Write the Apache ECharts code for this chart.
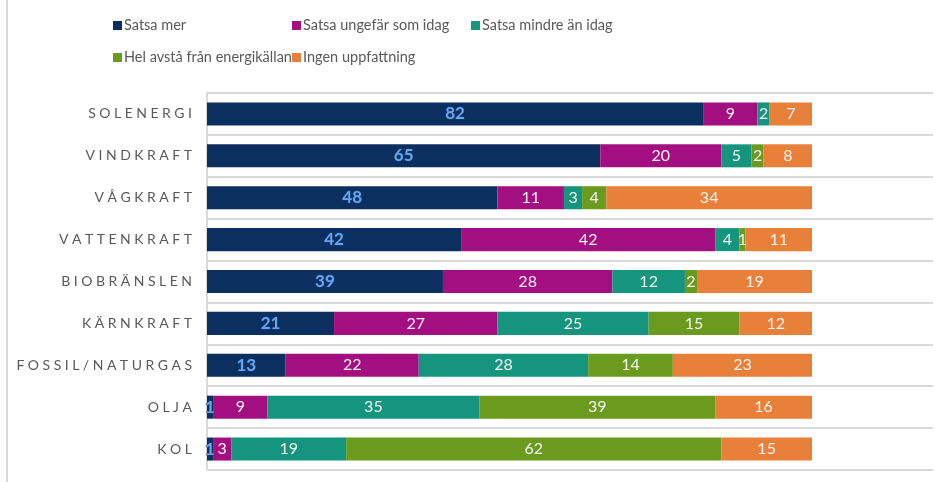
<!DOCTYPE html>
<html>
<head>
<meta charset="utf-8">
<script src="https://cdn.jsdelivr.net/npm/echarts@6/dist/echarts.min.js"></script>
<style>
  html, body { margin: 0; padding: 0; background: #fff; }
  #chart { width: 941px; height: 482px; }
</style>
</head>
<body>
<div id="chart"></div>
<script>
// energikällor, uppifrån och ned
const categories = ['SOLENERGI', 'VINDKRAFT', 'VÅGKRAFT', 'VATTENKRAFT', 'BIOBRÄNSLEN',
  'KÄRNKRAFT', 'FOSSIL/NATURGAS', 'OLJA', 'KOL'];

const seriesNames = ['Satsa mer', 'Satsa ungefär som idag', 'Satsa mindre än idag',
  'Hel avstå från energikällan', 'Ingen uppfattning'];

const satsaMer = [82, 65, 48, 42, 39, 21, 13, 1, 1];
const satsaSom = [9, 20, 11, 42, 28, 27, 22, 9, 3];
const satsaMindre = [2, 5, 3, 4, 12, 25, 28, 35, 19];
const helAvsta = [0, 2, 4, 1, 2, 15, 14, 39, 62];
const ingenUppf = [7, 8, 34, 11, 19, 12, 23, 16, 15];

const colors = ['#0b2f5f', '#a30f80', '#16957e', '#6b9b1e', '#e8803a'];

const chart = echarts.init(document.getElementById('chart'));

const fontFam = 'Lato, "Open Sans", sans-serif';
const gray = '#595959';

// glest spärrade versaler som i originalet
const spaced = (s) => s.split('').join('\u2005');

const valueData = [satsaMer, satsaSom, satsaMindre, helAvsta, ingenUppf];

const series = seriesNames.map((name, i) => ({
  name: name,
  type: 'bar',
  stack: 'total',
  barWidth: '55%',
  itemStyle: { color: colors[i] },
  data: valueData[i].map(v => (v === 0 ? null : v)),
  label: i === 0 ? {
    show: true,
    position: 'inside',
    color: '#64a5f2',
    fontWeight: 'bold',
    fontSize: 17,
    fontFamily: fontFam,
    textBorderColor: '#1f3f70',
    textBorderWidth: 1
  } : {
    show: true,
    position: 'inside',
    color: '#f4f4f4',
    fontSize: 16,
    fontFamily: fontFam
  }
}));

// legend: fasta kolumner som i originalet
const legendPos = [
  { left: 113, top: 18 },
  { left: 292, top: 18 },
  { left: 471, top: 18 },
  { left: 113, top: 50 },
  { left: 292, top: 50 }
];
const legends = seriesNames.map((name, i) => ({
  data: [name],
  left: legendPos[i].left,
  top: legendPos[i].top,
  padding: 0,
  itemWidth: 9,
  itemHeight: 9,
  icon: 'rect',
  textStyle: { color: gray, fontSize: 14.5, fontFamily: fontFam, padding: [0, 0, 0, -3] }
}));

const option = {
  backgroundColor: '#fff',
  animation: false,
  legend: legends,
  grid: { left: 207, right: 8, top: 93, bottom: 12, containLabel: false, outerBoundsMode: 'none' },
  xAxis: {
    type: 'value',
    min: 0,
    max: 120,
    show: false,
    splitLine: { show: false }
  },
  yAxis: {
    type: 'category',
    data: categories,
    inverse: true,
    axisTick: { show: false },
    axisLine: { show: true, lineStyle: { color: '#d9d9d9', width: 2 } },
    splitLine: { show: true, lineStyle: { color: '#d9d9d9', width: 2 } },
    axisLabel: {
      color: gray,
      fontSize: 14,
      fontFamily: fontFam,
      margin: 15,
      formatter: spaced
    }
  },
  graphic: [{
    type: 'line',
    shape: { x1: 7, y1: 0, x2: 7, y2: 482 },
    style: { stroke: '#d9d9d9', lineWidth: 2 }
  }],
  series: series
};

chart.setOption(option);
</script>
</body>
</html>
